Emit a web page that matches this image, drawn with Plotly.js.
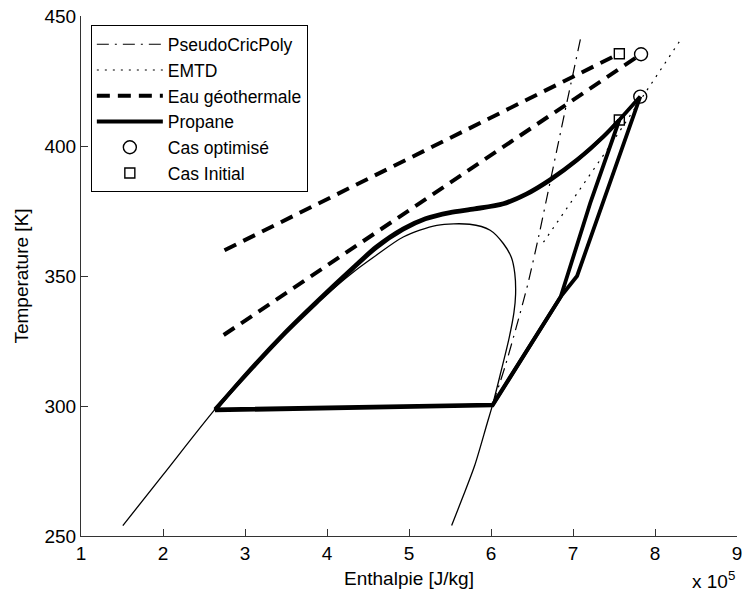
<!DOCTYPE html>
<html>
<head>
<meta charset="utf-8">
<script src="https://cdn.plot.ly/plotly-3.0.1.min.js"></script>
<style>html,body{margin:0;padding:0;background:#fff;}#chart{width:742px;height:596px;}</style>
</head>
<body>
<div id="chart"></div>
<script>
// Enthalpy in units of 1e5 J/kg, temperature in K
const domeH = [1.51, 2.0, 2.634, 3.0, 3.5, 4.0, 4.3, 4.58, 4.93, 5.34, 5.74, 5.99, 6.15, 6.25, 6.29, 6.30, 6.28, 6.22, 6.12, 6.02, 5.95, 5.8, 5.65, 5.52];
const domeT = [254, 273.5, 298.7, 311.5, 328.5, 343, 351, 357.5, 365, 369.5, 369.9, 367.6, 362.5, 357, 351, 343, 336, 326, 313, 300.5, 293, 277, 264.5, 254];

const pseudoH = [6.02, 6.17, 6.31, 6.45, 6.58, 6.72, 6.9, 7.09];
const pseudoT = [300.5, 315, 330.5, 347, 365, 386, 413, 441];

const emtdH = [6.64, 7.47, 8.33];
const emtdT = [363, 401, 441.7];

const geoInitH = [2.75, 7.565];
const geoInitT = [359.9, 435.5];
const geoOptH = [2.74, 7.83];
const geoOptT = [327.3, 435.3];

// propane heating curves (pump exit -> turbine inlet)
const heatOptH = [2.634, 3.0, 3.5, 3.9, 4.3, 4.6, 4.93, 5.2, 5.5, 5.8, 6.15, 6.43, 6.72, 7.05, 7.37, 7.565, 7.82];
const heatOptT = [298.7, 311.5, 328.3, 340.5, 352.3, 360.8, 367.8, 371.8, 374.2, 375.6, 377.6, 381.3, 386.8, 394.5, 403.5, 410, 419];
const heatInitH = [2.634, 3.0, 3.5, 3.9, 4.3, 4.6, 4.93, 5.2, 5.5, 5.8, 6.15, 6.43, 6.72, 7.05, 7.37, 7.565];
const heatInitT = [298.3, 311.8, 328.7, 341, 352.8, 361.3, 368.3, 372.2, 374.6, 376, 378, 381.7, 387.2, 394.8, 403.7, 410];
// propane expansion, desuperheating and condensation
const restOptH = [7.82, 7.35, 7.05, 6.86, 6.02, 2.634];
const restOptT = [419, 377, 350, 342.5, 300.5, 298.7];
const restInitH = [7.565, 7.21, 6.85, 6.02, 2.634];
const restInitT = [410, 378, 342, 300.2, 298.3];

const optH = [7.82, 7.83];
const optT = [419, 435.3];
const initH = [7.565, 7.565];
const initT = [410, 435.5];

const xTicks = [1, 2, 3, 4, 5, 6, 7, 8, 9];
const yTicks = [250, 300, 350, 400, 450];

const FONT = '"Liberation Sans", Arial, Helvetica, sans-serif';
const K = '#000';
const thick = 3.8;

const traces = [
  {x: domeH, y: domeT, mode: 'lines', line: {color: K, width: 1.3, shape: 'spline', smoothing: 0.8}, showlegend: false},
  {x: pseudoH, y: pseudoT, mode: 'lines', name: 'PseudoCricPoly', line: {color: K, width: 1.2, dash: '12px,6px,2px,6px', shape: 'spline', smoothing: 0.6}},
  {x: emtdH, y: emtdT, mode: 'lines', name: 'EMTD', line: {color: K, width: 1.2, dash: '2px,6px'}},
  {x: geoInitH, y: geoInitT, mode: 'lines', name: 'Eau géothermale', legendgroup: 'geo', line: {color: K, width: 4, dash: '13px,8px'}},
  {x: geoOptH, y: geoOptT, mode: 'lines', name: 'Eau géothermale', legendgroup: 'geo', showlegend: false, line: {color: K, width: 4, dash: '13px,8px'}},
  {x: heatOptH, y: heatOptT, mode: 'lines', name: 'Propane', legendgroup: 'prop', line: {color: K, width: thick, shape: 'spline', smoothing: 0.8}},
  {x: heatInitH, y: heatInitT, mode: 'lines', name: 'Propane', legendgroup: 'prop', showlegend: false, line: {color: K, width: thick, shape: 'spline', smoothing: 0.8}},
  {x: restOptH, y: restOptT, mode: 'lines', name: 'Propane', legendgroup: 'prop', showlegend: false, line: {color: K, width: thick}},
  {x: restInitH, y: restInitT, mode: 'lines', name: 'Propane', legendgroup: 'prop', showlegend: false, line: {color: K, width: thick}},
  {x: optH, y: optT, mode: 'markers', name: 'Cas optimisé', marker: {symbol: 'circle-open', size: 13, color: K, line: {width: 1.4, color: K}}},
  {x: initH, y: initT, mode: 'markers', name: 'Cas Initial', marker: {symbol: 'square-open', size: 10, color: K, line: {width: 1.4, color: K}}}
];

const layout = {
  width: 742, height: 596,
  margin: {l: 81, r: 5, t: 16, b: 60},
  paper_bgcolor: '#fff', plot_bgcolor: '#fff',
  font: {family: FONT, size: 19, color: K},
  showlegend: true,
  hovermode: false,
  legend: {
    x: 0.015, y: 0.982, xanchor: 'left', yanchor: 'top',
    bgcolor: '#fff', bordercolor: K, borderwidth: 1,
    font: {family: FONT, size: 17.5, color: K},
    tracegroupgap: 0, itemwidth: 66
  },
  xaxis: {
    range: [1, 9], tickvals: xTicks, ticktext: xTicks.map(String),
    ticks: 'inside', ticklen: 7, tickcolor: '#333', tickwidth: 1,
    showline: true, linecolor: '#333', linewidth: 1, mirror: false,
    showgrid: false, zeroline: false, ticklabeloverflow: 'allow',
    tickfont: {family: FONT, size: 19, color: K},
    title: {text: 'Enthalpie [J/kg]', font: {family: FONT, size: 19, color: K}, standoff: 8}
  },
  yaxis: {
    range: [250, 450], tickvals: yTicks, ticktext: yTicks.map(String),
    ticks: 'inside', ticklen: 7, tickcolor: '#333', tickwidth: 1,
    showline: true, linecolor: '#333', linewidth: 1, mirror: false,
    showgrid: false, zeroline: false, ticklabeloverflow: 'allow',
    tickfont: {family: FONT, size: 19, color: K},
    title: {text: 'Temperature [K]', font: {family: FONT, size: 19, color: K}, standoff: 10}
  },
  annotations: [{
    xref: 'paper', yref: 'paper', x: 1.0, y: -0.058, xanchor: 'right', yanchor: 'top',
    text: 'x 10<sup>5</sup>', showarrow: false, font: {family: FONT, size: 19, color: K}
  }]
};

Plotly.newPlot('chart', traces, layout, {staticPlot: true, displayModeBar: false});
</script>
</body>
</html>
